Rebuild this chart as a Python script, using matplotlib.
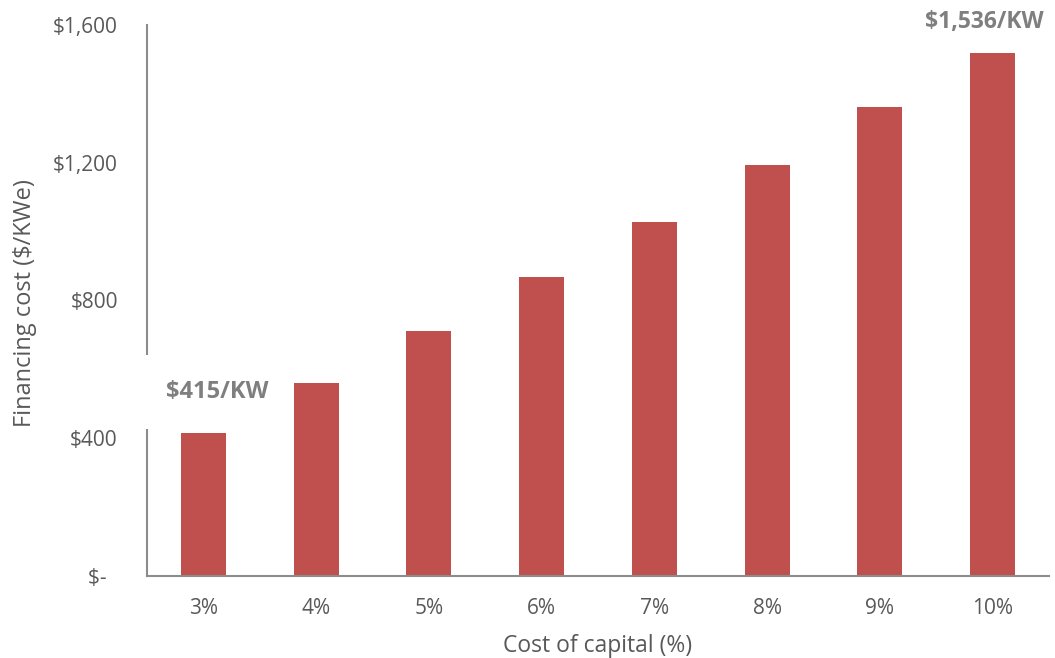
import matplotlib
matplotlib.use("Agg")
import matplotlib.pyplot as plt

categories = ["3%", "4%", "5%", "6%", "7%", "8%", "9%", "10%"]
financing_cost = [414, 560, 711, 867, 1028, 1193, 1363, 1519]
ytick_values = [0, 400, 800, 1200, 1600]
ytick_labels = ["$-  ", "$400", "$800", "$1,200", "$1,600"]
low_label = "$415/KW"
high_label = "$1,536/KW"

plt.rcParams['font.family'] = ['Open Sans', 'DejaVu Sans']
txt = "#595959"
spine_c = "#8c8c8c"

fig = plt.figure(figsize=(10.55, 6.58), dpi=100)
ax = fig.add_axes([147/1055, 1-576/658, (1049-147)/1055, (576-25)/658])

x = list(range(len(categories)))
ax.bar(x, financing_cost, width=0.4, color="#C0504D", zorder=2)
ax.set_xlim(-0.5, len(categories)-0.5)
ax.set_ylim(0, 1600)
ax.set_xticks(x)
ax.set_xticklabels(categories, fontsize=15, color=txt)
ax.set_yticks(ytick_values)
ax.set_yticklabels(ytick_labels, fontsize=15, color=txt)
ax.tick_params(axis='both', length=0)
ax.tick_params(axis='x', pad=16)
ax.tick_params(axis='y', pad=21)
for s in ["top", "right"]:
    ax.spines[s].set_visible(False)
for s in ["left", "bottom"]:
    ax.spines[s].set_color(spine_c)
    ax.spines[s].set_linewidth(1.5)

ax.set_xlabel("Cost of capital (%)", fontsize=16.5, color=txt)
ax.set_ylabel("Financing cost ($/KWe)", fontsize=17, color=txt)
ax.xaxis.set_label_coords(0.5, -0.105)
ax.yaxis.set_label_coords(-0.122, 0.495)

ax.text(0.12, financing_cost[0] + 120, low_label, ha="center", va="center",
        fontsize=17, fontweight="bold", color="#7f7f7f", zorder=5, clip_on=False,
        bbox=dict(boxstyle="square,pad=1.05", facecolor="white", edgecolor="none"))
ax.text(6.93, 1609, high_label, ha="center", va="center",
        fontsize=16.5, fontweight="bold", color="#7f7f7f", zorder=5, clip_on=False)

fig.savefig("out.png", dpi=100)
